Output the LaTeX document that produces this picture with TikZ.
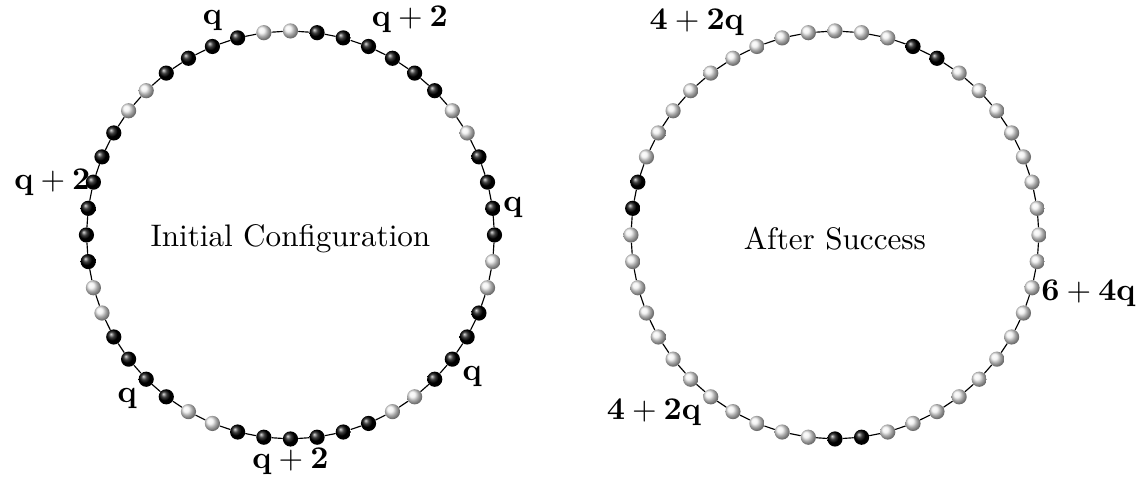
\documentclass[tikz,border=0pt]{standalone}
\usetikzlibrary{shadings}
\tikzset{
  ball/.style={circle, inner sep=0pt, minimum size=0.185cm, shading=ball},
  dark/.style={ball, ball color=black},
  lite/.style={ball, ball color=gray!12},
  lbl/.style={inner sep=1pt}
}
\begin{document}
\begin{tikzpicture}[line cap=round, line join=round, font=\fontsize{10.8}{13}\selectfont]
	\useasboundingbox (-3.538,-2.960) rectangle (10.372,2.862);
	\def\R{2.485cm}
	\coordinate (L) at (0,0);
	\coordinate (R) at (6.632,0);
	% initial configuration
	\foreach \a/\b in {1/6,9/12,15/18,21/26,29/32,35/40,43/46}
		\foreach \j in {\a,...,\b}{\node[dark] (l\j) at ([shift={(90-7.5*\j:\R)}]L) {};}
	\foreach \j in {0,7,8,13,14,19,20,27,28,33,34,41,42,47}
		\node[lite] (l\j) at ([shift={(90-7.5*\j:\R)}]L) {};
	% after success
	\foreach \j in {3,4,23,24,37,38}
		\node[dark] (r\j) at ([shift={(90-7.5*\j:\R)}]R) {};
	\foreach \a/\b in {0/2,5/22,25/36,39/47}
		\foreach \j in {\a,...,\b}{\node[lite] (r\j) at ([shift={(90-7.5*\j:\R)}]R) {};}
	% strings
	\foreach \j [evaluate=\j as \k using {int(mod(\j+1,48))}] in {0,...,47}{
		\draw (l\j) -- (l\k);
		\draw (r\j) -- (r\k);
	}
	\node (init) at ([yshift=-0.04cm]L) {Initial Configuration};
	\node (succ) at ([yshift=-0.04cm]R) {After Success};
	% group sizes
	\node[lbl] (q1) at ([shift={(110:2.78)}]L) {$\mathbf{q}$};
	\node[lbl] (q2) at ([shift={(61:3.0)}]L) {$\mathbf{q+2}$};
	\node[lbl] (q3) at ([shift={(7:2.73)}]L) {$\mathbf{q}$};
	\node[lbl] (q4) at ([shift={(-38:2.81)}]L) {$\mathbf{q}$};
	\node[lbl] (q5) at ([shift={(-90:2.76)}]L) {$\mathbf{q+2}$};
	\node[lbl] (q6) at ([shift={(225:2.81)}]L) {$\mathbf{q}$};
	\node[lbl] (q7) at ([shift={(167.5:2.97)}]L) {$\mathbf{q+2}$};
	\node[lbl] (s1) at ([shift={(123:3.09)}]R) {$\mathbf{4+2q}$};
	\node[lbl] (s2) at ([shift={(-13:3.17)}]R) {$\mathbf{6+4q}$};
	\node[lbl] (s3) at ([shift={(224.5:3.09)}]R) {$\mathbf{4+2q}$};
\end{tikzpicture}
\end{document}
